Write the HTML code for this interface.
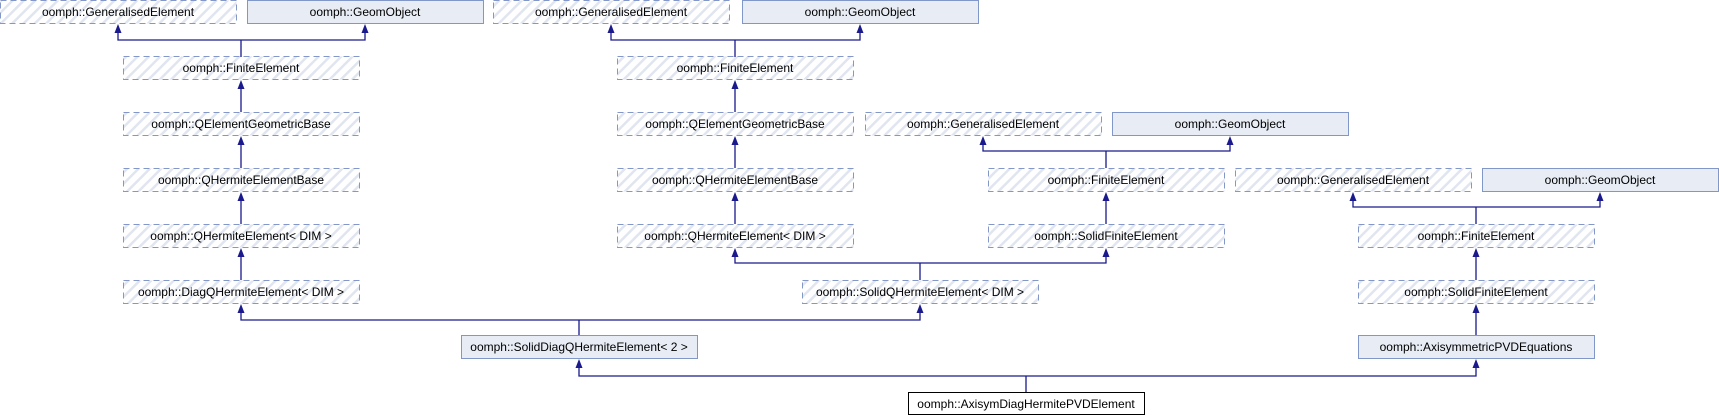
<!DOCTYPE html>
<html><head><meta charset="utf-8"><style>
html,body{margin:0;padding:0;background:#fff;}
svg{display:block;}
text{font-family:"Liberation Sans",sans-serif;font-size:12px;fill:#000;}
</style></head><body>
<svg width="1719" height="416" viewBox="0 0 1719 416" xmlns="http://www.w3.org/2000/svg">
<defs>
<pattern id="h" patternUnits="userSpaceOnUse" width="8" height="8" patternTransform="rotate(45)">
<rect width="8" height="8" fill="#fff"/><rect width="2.5" height="8" fill="#e0e5f0"/>
</pattern>
</defs>
<g fill="url(#h)" stroke="#8497c9" stroke-dasharray="6,4" stroke-width="1">
<rect x="0.5" y="0.5" width="236" height="23"/>
<rect x="123.5" y="56.5" width="236" height="23"/>
<rect x="123.5" y="112.5" width="236" height="23"/>
<rect x="123.5" y="168.5" width="236" height="23"/>
<rect x="123.5" y="224.5" width="236" height="23"/>
<rect x="123.5" y="280.5" width="236" height="23"/>
<rect x="493.5" y="0.5" width="236" height="23"/>
<rect x="617.5" y="56.5" width="236" height="23"/>
<rect x="617.5" y="112.5" width="236" height="23"/>
<rect x="617.5" y="168.5" width="236" height="23"/>
<rect x="617.5" y="224.5" width="236" height="23"/>
<rect x="802.5" y="280.5" width="236" height="23"/>
<rect x="865.5" y="112.5" width="236" height="23"/>
<rect x="988.5" y="168.5" width="236" height="23"/>
<rect x="988.5" y="224.5" width="236" height="23"/>
<rect x="1235.5" y="168.5" width="236" height="23"/>
<rect x="1358.5" y="224.5" width="236" height="23"/>
<rect x="1358.5" y="280.5" width="236" height="23"/>
</g>
<g fill="#e8ecf5" stroke="#8197c8" stroke-width="1">
<rect x="247.5" y="0.5" width="236" height="23"/>
<rect x="742.5" y="0.5" width="236" height="23"/>
<rect x="1112.5" y="112.5" width="236" height="23"/>
<rect x="1482.5" y="168.5" width="236" height="23"/>
<rect x="461.5" y="335.5" width="236" height="23"/>
<rect x="1358.5" y="335.5" width="236" height="23"/>
</g>
<rect x="908.5" y="392.5" width="236" height="22" fill="#fff" stroke="#000"/>
<g text-anchor="middle">
<text x="118" y="16">oomph::GeneralisedElement</text>
<text x="365" y="16">oomph::GeomObject</text>
<text x="241" y="72">oomph::FiniteElement</text>
<text x="241" y="128">oomph::QElementGeometricBase</text>
<text x="241" y="184">oomph::QHermiteElementBase</text>
<text x="241" y="240">oomph::QHermiteElement&lt; DIM &gt;</text>
<text x="241" y="296">oomph::DiagQHermiteElement&lt; DIM &gt;</text>
<text x="611" y="16">oomph::GeneralisedElement</text>
<text x="860" y="16">oomph::GeomObject</text>
<text x="735" y="72">oomph::FiniteElement</text>
<text x="735" y="128">oomph::QElementGeometricBase</text>
<text x="735" y="184">oomph::QHermiteElementBase</text>
<text x="735" y="240">oomph::QHermiteElement&lt; DIM &gt;</text>
<text x="920" y="296">oomph::SolidQHermiteElement&lt; DIM &gt;</text>
<text x="983" y="128">oomph::GeneralisedElement</text>
<text x="1230" y="128">oomph::GeomObject</text>
<text x="1106" y="184">oomph::FiniteElement</text>
<text x="1106" y="240">oomph::SolidFiniteElement</text>
<text x="1353" y="184">oomph::GeneralisedElement</text>
<text x="1600" y="184">oomph::GeomObject</text>
<text x="1476" y="240">oomph::FiniteElement</text>
<text x="1476" y="296">oomph::SolidFiniteElement</text>
<text x="1476" y="351">oomph::AxisymmetricPVDEquations</text>
<text x="579" y="351">oomph::SolidDiagQHermiteElement&lt; 2 &gt;</text>
<text x="1026" y="408">oomph::AxisymDiagHermitePVDElement</text>
</g>
<g fill="none" stroke="#1a1a8c" stroke-width="1.3">
<polyline points="241,57 241,40"/><polyline points="118,32 118,40 365,40 365,32"/>
<polyline points="241,112 241,88"/>
<polyline points="241,168 241,144"/>
<polyline points="241,224 241,200"/>
<polyline points="241,280 241,256"/>
<polyline points="735,57 735,40"/><polyline points="611,32 611,40 860,40 860,32"/>
<polyline points="735,112 735,88"/>
<polyline points="735,168 735,144"/>
<polyline points="735,224 735,200"/>
<polyline points="1106,168 1106,151"/><polyline points="983,144 983,151 1230,151 1230,144"/>
<polyline points="1106,224 1106,200"/>
<polyline points="1476,224 1476,207"/><polyline points="1353,200 1353,207 1600,207 1600,200"/>
<polyline points="1476,280 1476,256"/>
<polyline points="1476,335 1476,312"/>
<polyline points="920,280 920,263"/><polyline points="735,256 735,263 1106,263 1106,256"/>
<polyline points="579,335 579,320"/><polyline points="241,312 241,320 920,320 920,312"/>
<polyline points="1026,392 1026,376"/><polyline points="579,367 579,376 1476,376 1476,367"/>
</g>
<g fill="#1a1a8c">
<path d="M118,24 l-3.5,9 h7z"/><path d="M365,24 l-3.5,9 h7z"/>
<path d="M241,80 l-3.5,9 h7z"/><path d="M241,136 l-3.5,9 h7z"/><path d="M241,192 l-3.5,9 h7z"/><path d="M241,248 l-3.5,9 h7z"/>
<path d="M611,24 l-3.5,9 h7z"/><path d="M860,24 l-3.5,9 h7z"/>
<path d="M735,80 l-3.5,9 h7z"/><path d="M735,136 l-3.5,9 h7z"/><path d="M735,192 l-3.5,9 h7z"/><path d="M735,248 l-3.5,9 h7z"/>
<path d="M983,136 l-3.5,9 h7z"/><path d="M1230,136 l-3.5,9 h7z"/>
<path d="M1106,192 l-3.5,9 h7z"/><path d="M1106,248 l-3.5,9 h7z"/>
<path d="M1353,192 l-3.5,9 h7z"/><path d="M1600,192 l-3.5,9 h7z"/>
<path d="M1476,248 l-3.5,9 h7z"/><path d="M1476,304 l-3.5,9 h7z"/><path d="M1476,359 l-3.5,9 h7z"/>
<path d="M241,304 l-3.5,9 h7z"/><path d="M920,304 l-3.5,9 h7z"/>
<path d="M579,359 l-3.5,9 h7z"/>
</g>
</svg>
</body></html>
